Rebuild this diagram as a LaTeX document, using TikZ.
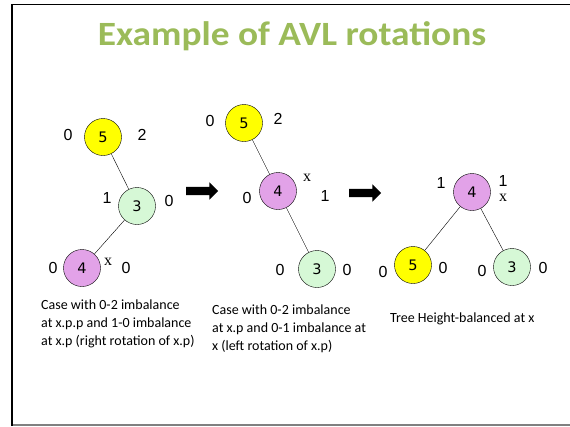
\documentclass[tikz,border=0pt]{standalone}
\usepackage{fontspec}
\setmainfont{Carlito}
\newfontfamily\numfont{Liberation Sans}
\newfontfamily\keyfont{DejaVu Sans}
\newfontfamily\xfont{Liberation Serif}
\usetikzlibrary{shapes.arrows}
\definecolor{titlegreen}{HTML}{9BBB59}
\definecolor{nodeyellow}{HTML}{FFFF00}
\definecolor{nodegreen}{HTML}{D6F8D6}
\definecolor{nodepurple}{HTML}{E2A2E8}
\begin{document}
\begin{tikzpicture}[x=1pt, y=-1pt,
  tnode/.style={draw, circle, thin, minimum size=37pt, inner sep=0pt, font=\keyfont\fontsize{14.5}{16}\selectfont},
  bal/.style={font=\numfont\fontsize{16}{18}\selectfont, inner sep=0pt},
  xmark/.style={font=\xfont\fontsize{16}{18}\selectfont, inner sep=0pt},
  caption/.style={align=left, anchor=north west, inner sep=0pt, font=\fontsize{14}{18}\selectfont},
  bigarrow/.style={single arrow, fill=black, inner xsep=0pt, inner ysep=4pt, minimum width=17pt, minimum height=32pt, single arrow head extend=4.5pt, single arrow head indent=0pt}]
  \useasboundingbox (0,0) rectangle (570,426);
  % slide frame
  \draw[gray, line width=1.2pt] (12,425) -- (570,425);
  \draw[line width=1.8pt] (12,426) -- (12,4.5) -- (570,4.5);

  \node[font=\bfseries\fontsize{34}{38}\selectfont, text=titlegreen] (title) at (292,36) {\scalebox{1.1}[1]{Example of AVL rotations}};

  % Left tree: before the right rotation
  \node[tnode, fill=nodeyellow] (a5) at (103,137) {5};
  \node[tnode, fill=nodegreen]  (a3) at (137,206) {3};
  \node[tnode, fill=nodepurple] (a4) at (82,268) {4};
  \draw[thin] (a5) -- (a3);
  \draw[thin] (a3) -- (a4);
  \node[bal] at (68,135) {0};
  \node[bal] at (142,135) {2};
  \node[bal] at (107,198) {1};
  \node[bal] at (169,201) {0};
  \node[bal] at (53,268) {0};
  \node[bal] at (126,268) {0};
  \node[xmark] at (108,262) {x};

  \node[bigarrow] (arr1) at (200,191) {};

  % Middle tree: after the right rotation
  \node[tnode, fill=nodeyellow] (b5) at (244,123) {5};
  \node[tnode, fill=nodepurple] (b4) at (278,191) {4};
  \node[tnode, fill=nodegreen]  (b3) at (317,269) {3};
  \draw[thin] (b5) -- (b4);
  \draw[thin] (b4) -- (b3);
  \node[bal] at (210,121) {0};
  \node[bal] at (278,119) {2};
  \node[bal] at (247,198) {0};
  \node[bal] at (325,196) {1};
  \node[bal] at (280,270) {0};
  \node[bal] at (347,270) {0};
  \node[xmark] at (307,178) {x};

  \node[bigarrow] (arr2) at (363,193) {};

  % Right tree: after the left rotation
  \node[tnode, fill=nodepurple] (c4) at (472,192) {4};
  \node[tnode, fill=nodeyellow] (c5) at (413,265) {5};
  \node[tnode, fill=nodegreen]  (c3) at (512,267) {3};
  \draw[thin] (c4) -- (c5);
  \draw[thin] (c4) -- (c3);
  \node[bal] at (441,183) {1};
  \node[bal] at (503,181) {1};
  \node[bal] at (383,272) {0};
  \node[bal] at (443,268) {0};
  \node[bal] at (482,271) {0};
  \node[bal] at (543,268) {0};
  \node[xmark] at (503,198) {x};

  % captions
  \node[caption] (cap1) at (41,300) {Case with 0-2 imbalance\\at x.p.p and 1-0 imbalance\\at x.p (right rotation of x.p)};
  \node[caption] (cap2) at (212,305) {Case with 0-2 imbalance\\at x.p and 0-1 imbalance at\\x (left rotation of x.p)};
  \node[caption] (cap3) at (390,313) {Tree Height-balanced at x};
\end{tikzpicture}
\end{document}
